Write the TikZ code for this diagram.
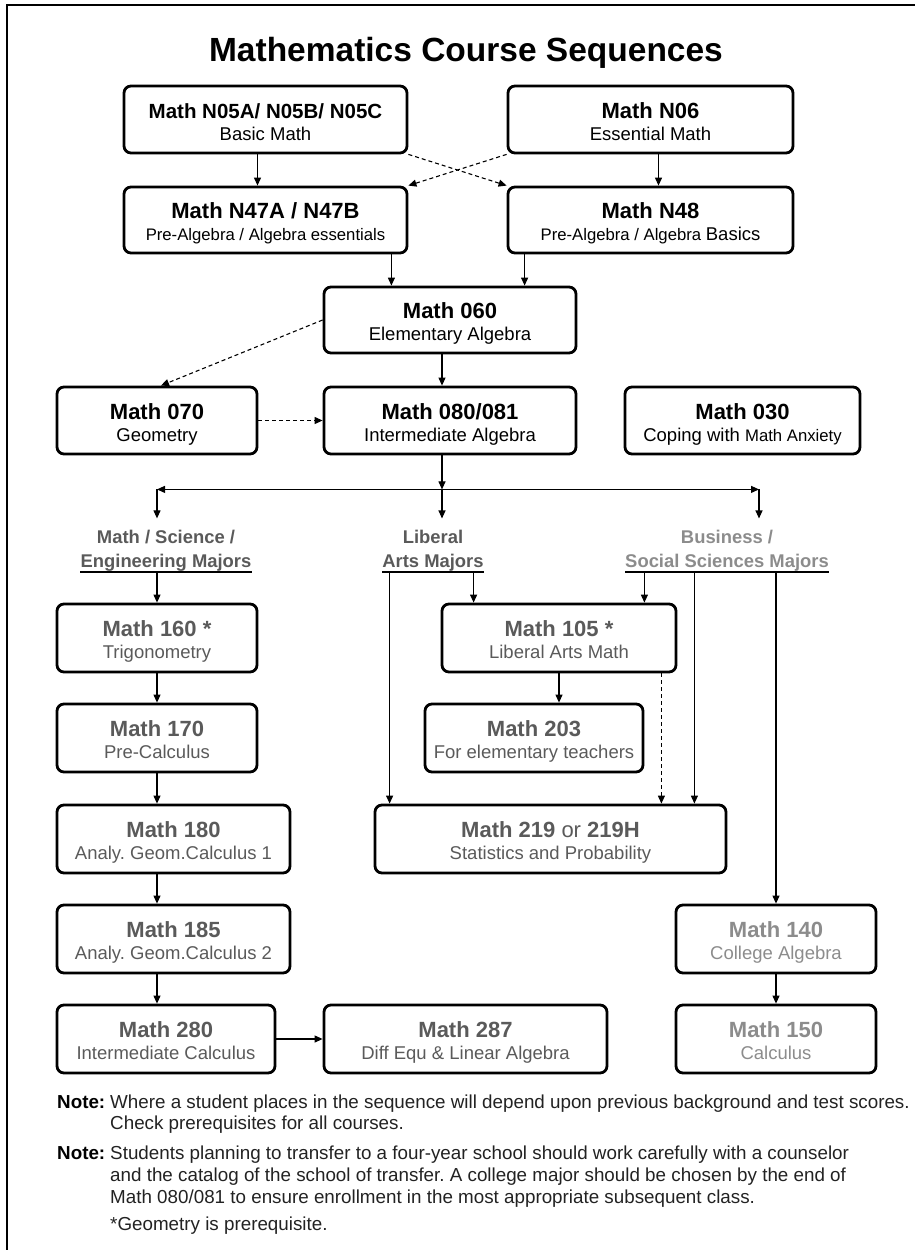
\documentclass[tikz,border=0pt]{standalone}
\usepackage{fontspec}
\setmainfont{Liberation Sans}
\usetikzlibrary{arrows.meta}
\definecolor{crsgray}{HTML}{5A5A5A}
\definecolor{busgray}{HTML}{8C8C8C}
\definecolor{notegray}{HTML}{222222}
\frenchspacing
% title line and subtitle line of a course box
\newcommand\crs[3][22]{{\bfseries\fontsize{#1}{22}\selectfont\rule{0pt}{24pt}#2}\\#3\rule[-5pt]{0pt}{5pt}}
\begin{document}
\begin{tikzpicture}[x=1pt,y=-1pt,
    crsbox/.style={draw,line width=2.8pt,rounded corners=7pt,align=center,inner sep=0pt,
      font=\fontsize{18.5}{22}\selectfont},
    crsdim/.style={crsbox,text=crsgray},
    crsbiz/.style={crsbox,text=busgray},
    majors/.style={inner sep=0pt,align=center,font=\bfseries\fontsize{18.4}{24}\selectfont},
    majline/.style={line width=2.6pt},
    arr/.style={-{Triangle[length=8pt,width=7pt]},line width=1.1pt},
    dsh/.style={arr,dash pattern=on 4pt off 3pt}]
    \useasboundingbox (0,0) rectangle (915,1250);
    % frame and title
    \draw[line width=2.6pt] (7,1250) |- (915,5);
    \node[anchor=base,font=\bfseries\fontsize{33.5}{34}\selectfont] (title) at (466,61) {Mathematics Course Sequences};
    % basic courses
    \node[crsbox,minimum width=283pt,minimum height=67pt] (n05) at (265.5,119.5) {\crs[20.5]{Math N05A/ N05B/ N05C}{Basic Math}};
    \node[crsbox,minimum width=285pt,minimum height=67pt] (n06) at (650.5,119.5) {\crs{Math N06}{Essential Math}};
    \node[crsbox,minimum width=283pt,minimum height=66pt] (n47) at (265.5,220) {\crs{Math N47A / N47B}{{\fontsize{16.7}{22}\selectfont Pre-Algebra / Algebra essentials}}};
    \node[crsbox,minimum width=285pt,minimum height=66pt] (n48) at (650.5,220) {\crs{Math N48}{{\fontsize{16.7}{22}\selectfont Pre-Algebra / Algebra }Basics}};
    \node[crsbox,minimum width=252pt,minimum height=66pt] (n060) at (450,320) {\crs{Math 060}{Elementary Algebra}};
    \node[crsbox,minimum width=200pt,minimum height=67pt] (n070) at (157,420.5) {\crs{Math 070}{Geometry}};
    \node[crsbox,minimum width=252pt,minimum height=67pt] (n080) at (450,420.5) {\crs{Math 080/081}{Intermediate Algebra}};
    \node[crsbox,minimum width=235pt,minimum height=67pt] (n030) at (742.5,420.5) {\crs{Math 030}{Coping with {\fontsize{16.7}{22}\selectfont Math Anxiety}}};
    \draw[arr] ([xshift=-8pt]n05.south) -- ([xshift=-8pt]n47.north);
    \draw[arr] ([xshift=8pt]n06.south) -- ([xshift=8pt]n48.north);
    \draw[dsh] (n05.south east) -- (n48.north west);
    \draw[dsh] (n06.south west) -- (n47.north east);
    \draw[arr] ([xshift=-17pt]n47.south east) -- ([xshift=-17pt]n47.south east |- n060.north);
    \draw[arr] ([xshift=18pt]n48.south west) -- ([xshift=18pt]n48.south west |- n060.north);
    \draw[arr] ([xshift=-8pt]n060.south) -- ([xshift=-8pt]n080.north);
    \draw[dsh] (n060.west) -- ([xshift=4pt]n070.north);
    \draw[dsh] (n070) -- (n080);
    % majors
    \node[majors,anchor=south,text=crsgray] (msc) at (166,572) {Math / Science /\\Engineering Majors};
    \node[majors,anchor=south,text=crsgray] (lib) at (433,572) {Liberal\\Arts Majors};
    \node[majors,anchor=south,text=busgray] (bus) at (727,572) {Business /\\Social Sciences Majors};
    \draw[majline] (msc.south west) -- (msc.south east);
    \draw[majline] (lib.south west) -- (lib.south east);
    \draw[majline] (bus.south west) -- (bus.south east);
    \coordinate (split) at ([xshift=-8pt,yshift=-34pt]n080.south);
    \coordinate (hl) at (split -| n070);
    \coordinate (hr) at ([xshift=317pt]split);
    \draw[arr] ([xshift=-8pt]n080.south) -- (split);
    \draw[arr] (split) -- (hl);
    \draw[arr] (split) -- (hr);
    \draw[arr,shorten >=12pt] (hl) -- (hl |- msc.north);
    \draw[arr,shorten >=12pt] (split) -- (split |- lib.north);
    \draw[arr,shorten >=12pt] (hr) -- (hr |- bus.north);
    % transfer level courses
    \node[crsdim,minimum width=200pt,minimum height=68pt] (n160) at (157,638) {\crs{Math 160 *}{Trigonometry}};
    \node[crsdim,minimum width=234pt,minimum height=68pt] (n105) at (559,638) {\crs{Math 105 *}{Liberal Arts Math}};
    \node[crsdim,minimum width=200pt,minimum height=68pt] (n170) at (157,738) {\crs{Math 170}{Pre-Calculus}};
    \node[crsdim,minimum width=218pt,minimum height=68pt] (n203) at (534,738) {\crs{Math 203}{For elementary teachers}};
    \node[crsdim,minimum width=233pt,minimum height=68pt] (n180) at (173.5,839) {\crs{Math 180}{Analy. Geom.Calculus 1}};
    \node[crsdim,minimum width=351pt,minimum height=68pt] (n219) at (550.5,839) {\crs{Math 219 {\mdseries or} 219H}{Statistics and Probability}};
    \node[crsdim,minimum width=233pt,minimum height=68pt] (n185) at (173.5,939) {\crs{Math 185}{Analy. Geom.Calculus 2}};
    \node[crsbiz,minimum width=200pt,minimum height=68pt] (n140) at (776,939) {\crs{Math 140}{College Algebra}};
    \node[crsdim,minimum width=218pt,minimum height=68pt] (n280) at (166,1039) {\crs{Math 280}{Intermediate Calculus}};
    \node[crsdim,minimum width=283pt,minimum height=68pt] (n287) at (465.5,1039) {\crs{Math 287}{Diff Equ \& Linear Algebra}};
    \node[crsbiz,minimum width=200pt,minimum height=68pt] (n150) at (776,1039) {\crs{Math 150}{Calculus}};
    \draw[arr] (msc.south -| n160) -- (n160);
    \draw[arr] ([xshift=16pt]n219.north west |- lib.south) -- ([xshift=16pt]n219.north west);
    \draw[arr] ([xshift=33pt]n105.north west |- lib.south) -- ([xshift=33pt]n105.north west);
    \draw[arr] ([xshift=-33pt]n105.north east |- bus.south) -- ([xshift=-33pt]n105.north east);
    \draw[arr] ([xshift=-33pt]n219.north east |- bus.south) -- ([xshift=-33pt]n219.north east);
    \draw[arr] (bus.south -| n140) -- (n140);
    \draw[arr] (n160) -- (n170);
    \draw[arr] (n170.south) -- (n170.south |- n180.north);
    \draw[arr] (n180.south -| n170) -- (n185.north -| n170);
    \draw[arr] (n185.south -| n170) -- (n280.north -| n170);
    \draw[arr] (n280) -- (n287);
    \draw[arr] (n105) -- (n105 |- n203.north);
    \draw[dsh] ([xshift=-16pt]n105.south east) -- ([xshift=-16pt]n105.south east |- n219.north);
    \draw[arr] (n140) -- (n150);
    % notes
    \node[anchor=north west,inner sep=0pt,text=notegray,font=\fontsize{18.8}{21.7}\selectfont] (notes) at (57,1092.8) {%
      \begin{tabular}{@{}l@{\hspace{5pt}}l@{}}
        \textcolor{black}{\bfseries Note:} & Where a student places in the sequence will depend upon previous background and test scores.\\
        & Check prerequisites for all courses.\\[8pt]
        \textcolor{black}{\bfseries Note:} & Students planning to transfer to a four-year school should work carefully with a counselor\\
        & and the catalog of the school of transfer. A college major should be chosen by the end of\\
        & Math 080/081 to ensure enrollment in the most appropriate subsequent class.\\[6pt]
        & *Geometry is prerequisite.
      \end{tabular}};
\end{tikzpicture}
\end{document}
